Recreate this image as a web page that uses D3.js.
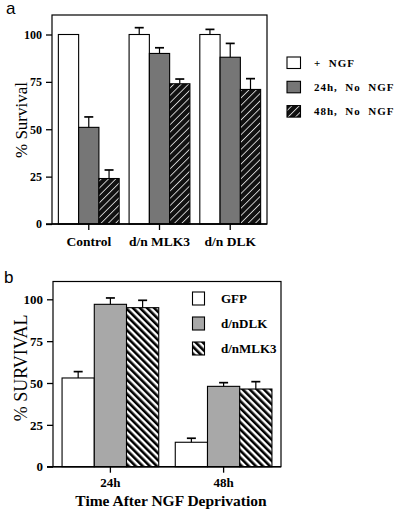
<!DOCTYPE html>
<html><head><meta charset="utf-8">
<script src="https://cdn.jsdelivr.net/npm/d3@7"></script>
<style>
html,body{margin:0;padding:0;background:#fff;}
svg{display:block;}
</style></head>
<body>
<svg id="c" width="400" height="516"></svg>
<script>
// Panel a data
const catsA = ["Control", "d/n MLK3", "d/n DLK"];
const seriesA = ["+  NGF", "24h,  No  NGF", "48h,  No  NGF"];
const valNGF = [100, 100, 100];
const val24 = [51, 90, 88];
const val48 = [24, 74, 71];
const errNGF = [0, 103.6, 102.7];
const err24 = [56.5, 93, 95.3];
const err48 = [28.5, 76.5, 76.7];
const ticksA = [0, 25, 50, 75, 100];

// Panel b data
const catsB = ["24h", "48h"];
const seriesB = ["GFP", "d/nDLK", "d/nMLK3"];
const valGFP = [53, 14.6];
const valDLK = [97, 48];
const valMLK3 = [95, 46.4];
const errGFP = [56.8, 17];
const errDLK = [100.8, 50.2];
const errMLK3 = [99.4, 50.8];
const ticksB = [0, 25, 50, 75, 100];

const SERIF = "'Liberation Serif', 'Times New Roman', Times, serif";
const SANS = "'Liberation Sans', Arial, sans-serif";

const svg = d3.select("#c");
const defs = svg.append("defs");
// pattern a: black with thin white "/" lines
const pa = defs.append("pattern").attr("id","hatchA").attr("patternUnits","userSpaceOnUse")
  .attr("width",5.2).attr("height",5.2).attr("patternTransform","rotate(45)");
pa.append("rect").attr("width",5.2).attr("height",5.2).attr("fill","#111");
pa.append("rect").attr("x",0).attr("width",0.9).attr("height",5.2).attr("fill","#d8d8d8");
// pattern b: bold "\" stripes
const pb = defs.append("pattern").attr("id","hatchB").attr("patternUnits","userSpaceOnUse")
  .attr("width",5).attr("height",5).attr("patternTransform","rotate(-45)");
pb.append("rect").attr("width",5).attr("height",5).attr("fill","#fff");
pb.append("rect").attr("x",0).attr("width",2.6).attr("height",5).attr("fill","#000");

function panel(o){
  const g = svg.append("g");
  const x0 = d3.scaleBand().domain(o.cats).range([o.left,o.right]).paddingInner(o.pi).paddingOuter(o.po);
  const x1 = d3.scaleBand().domain([0,1,2]).range([0,x0.bandwidth()]);
  const y = d3.scaleLinear().domain([0,100]).range([o.y0,o.y100]);
  // bars
  o.vals.forEach((vs,si)=>{
    vs.forEach((v,ci)=>{
      const bx = x0(o.cats[ci]) + x1(si);
      g.append("rect").attr("x",bx).attr("y",y(v)).attr("width",x1.bandwidth()).attr("height",y(0)-y(v))
        .attr("fill",o.fills[si]).attr("stroke","#000").attr("stroke-width",1.1);
      const e = o.errs[si][ci];
      if(e>v){
        const cx = bx + x1.bandwidth()/2;
        g.append("line").attr("x1",cx).attr("x2",cx).attr("y1",y(v)).attr("y2",y(e)).attr("stroke","#000").attr("stroke-width",1.2);
        g.append("line").attr("x1",cx-4.5).attr("x2",cx+4.5).attr("y1",y(e)).attr("y2",y(e)).attr("stroke","#000").attr("stroke-width",1.7);
      }
    });
  });
  // frame
  g.append("rect").attr("x",o.left).attr("y",o.top).attr("width",o.right-o.left).attr("height",o.y0-o.top)
    .attr("fill","none").attr("stroke","#000").attr("stroke-width",1.2);
  // y axis
  const ya = g.append("g").attr("transform",`translate(${o.left},0)`)
    .call(d3.axisLeft(y).tickValues(o.ticks).tickSize(6).tickPadding(4));
  ya.select(".domain").remove();
  ya.selectAll("line").attr("stroke","#000").attr("stroke-width",1.3);
  ya.selectAll("text").style("font-family",SERIF).attr("font-weight","bold")
    .attr("font-size",o.tickFs).attr("fill","#000");
  // x axis
  const xa = g.append("g").attr("transform",`translate(0,${o.y0})`)
    .call(d3.axisBottom(x0).tickSize(6).tickPadding(o.xPad));
  xa.select(".domain").remove();
  xa.selectAll("line").attr("stroke","#000").attr("stroke-width",1.3);
  xa.selectAll("text").style("font-family",SERIF).attr("font-weight","bold")
    .attr("font-size",o.xFs).attr("fill","#000");
  g.append("line").attr("x1",o.left-6).attr("x2",o.right).attr("y1",o.y0).attr("y2",o.y0)
    .attr("stroke","#000").attr("stroke-width",1.4);
  // y title
  g.append("text").attr("transform",`translate(${o.yTitleX},${o.yTitleY}) rotate(-90)`)
    .style("font-family",SERIF).attr("text-anchor","middle").attr("font-size",o.yTitleFs).attr("fill","#000").text(o.yTitle);
  // panel letter
  g.append("text").attr("x",o.letterX).attr("y",o.letterY).style("font-family",SANS)
    .attr("font-size",17).attr("fill","#000").text(o.letter);
  // legend
  o.series.forEach((s,i)=>{
    const ly = o.legY + i*o.legStep;
    g.append("rect").attr("x",o.legX).attr("y",ly).attr("width",o.legW).attr("height",o.legH)
      .attr("fill",o.fills[i]).attr("stroke","#000").attr("stroke-width",1.1);
    g.append("text").attr("x",o.legTX).attr("y",ly+o.legH/2).attr("dy","0.35em").style("font-family",SERIF)
      .attr("font-weight","bold").attr("font-size",o.legFs).attr("letter-spacing",o.legLs)
      .style("white-space","pre").attr("fill","#000").text(s);
  });
  return g;
}

panel({cats:catsA, series:seriesA, vals:[valNGF,val24,val48], errs:[errNGF,err24,err48],
  fills:["#fff","#767676","url(#hatchA)"], left:52, right:267, top:15, y0:224, y100:34.5,
  pi:0.14, po:0.09, ticks:ticksA, tickFs:12, xFs:13.5, xPad:6,
  yTitle:"% Survival", yTitleX:27, yTitleY:120, yTitleFs:17, letter:"a", letterX:6, letterY:14,
  legX:287, legY:57, legStep:24.3, legW:13.5, legH:11.5, legTX:314, legFs:11, legLs:1.0});

const gb = panel({cats:catsB, series:seriesB, vals:[valGFP,valDLK,valMLK3], errs:[errGFP,errDLK,errMLK3],
  fills:["#fff","#a8a8a8","url(#hatchB)"], left:53, right:281, top:281.5, y0:466.7, y100:299.3,
  pi:0.146, po:0.08, ticks:ticksB, tickFs:13, xFs:13, xPad:5,
  yTitle:"% SURVIVAL", yTitleX:27, yTitleY:368, yTitleFs:18, letter:"b", letterX:4, letterY:283,
  legX:192.5, legY:292, legStep:25, legW:12, legH:13, legTX:221, legFs:13, legLs:0});
gb.append("text").attr("x",171).attr("y",506).attr("text-anchor","middle").style("font-family",SERIF).attr("font-weight","bold")
  .attr("font-size",15.5).attr("fill","#000").text("Time After NGF Deprivation");
</script>
</body></html>
